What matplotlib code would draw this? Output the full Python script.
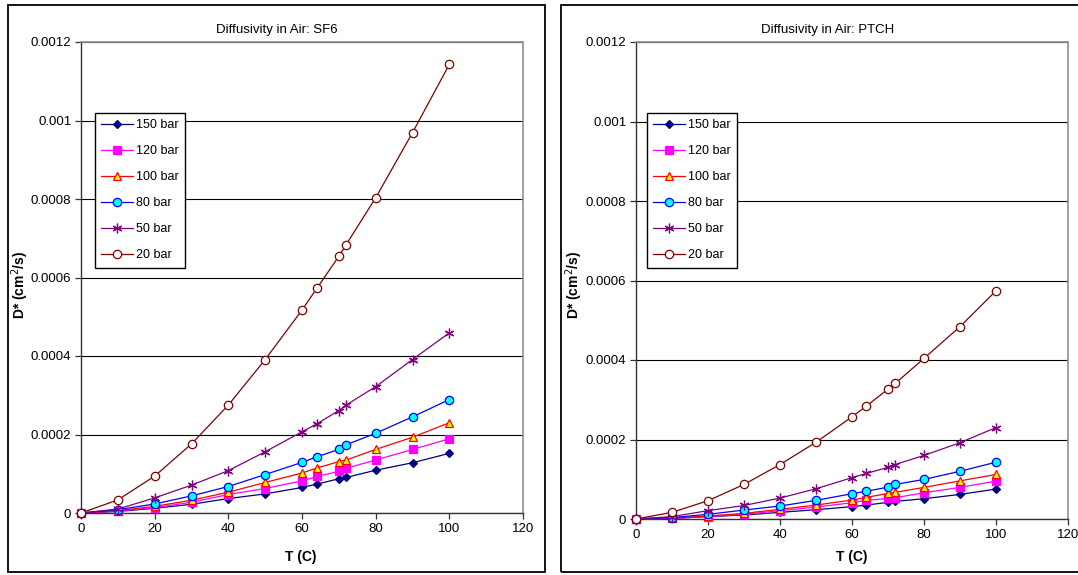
import numpy as np
import matplotlib
matplotlib.use("Agg")
import matplotlib.pyplot as plt
from matplotlib.patches import Rectangle
from matplotlib.ticker import FixedLocator, FuncFormatter

plt.rcParams['font.family'] = ['Liberation Sans', 'DejaVu Sans']

# temperatures (C)
temps = [0, 10, 20, 30, 40, 50, 60, 64, 70, 72, 80, 90, 100]
pressures = ["150 bar", "120 bar", "100 bar", "80 bar", "50 bar", "20 bar"]

# D* (cm^2/s) for SF6
sf6_150 = [0, 0.000004, 0.000012, 0.0000222, 0.0000368, 0.0000487, 0.000065, 0.0000735, 0.0000872, 0.0000906, 0.000109, 0.000128, 0.000152]
sf6_120 = [0, 0.000005, 0.0000137, 0.0000274, 0.000047, 0.0000624, 0.000082, 0.000093, 0.000106, 0.000114, 0.000135, 0.000162, 0.000189]
sf6_100 = [0, 0.000006, 0.000017, 0.0000325, 0.000053, 0.0000778, 0.000102, 0.0001145, 0.000131, 0.000135, 0.000162, 0.000193, 0.00023]
sf6_80 = [0, 0.0000085, 0.000023, 0.0000436, 0.0000675, 0.000098, 0.000129, 0.000143, 0.000162, 0.000174, 0.000203, 0.000245, 0.000289]
sf6_50 = [0, 0.00001, 0.0000385, 0.000071, 0.000108, 0.000156, 0.000207, 0.000227, 0.000261, 0.000275, 0.000322, 0.000391, 0.000459]
sf6_20 = [0, 0.0000333, 0.000094, 0.000176, 0.000275, 0.000391, 0.000517, 0.000572, 0.000654, 0.000684, 0.000803, 0.000969, 0.001143]

# D* (cm^2/s) for PTCH
ptch_150 = [0, 0.0000017, 0.000006, 0.00001, 0.0000167, 0.0000234, 0.000031, 0.0000351, 0.0000418, 0.0000444, 0.000051, 0.0000619, 0.0000753]
ptch_120 = [0, 0.0000017, 0.000006, 0.0000117, 0.0000209, 0.00003, 0.000041, 0.0000469, 0.0000519, 0.0000536, 0.0000661, 0.0000795, 0.0000954]
ptch_100 = [0, 0.0000017, 0.0000075, 0.0000142, 0.0000243, 0.0000351, 0.0000477, 0.0000544, 0.0000644, 0.000067, 0.0000795, 0.000096, 0.000112]
ptch_80 = [0, 0.0000035, 0.0000117, 0.0000226, 0.0000326, 0.0000469, 0.0000636, 0.00007, 0.00008, 0.000087, 0.0000996, 0.00012, 0.000143]
ptch_50 = [0, 0.000006, 0.000021, 0.000034, 0.0000527, 0.000076, 0.000104, 0.0001146, 0.00013, 0.000137, 0.00016, 0.000192, 0.00023]
ptch_20 = [0, 0.0000167, 0.000046, 0.000087, 0.000137, 0.000193, 0.000257, 0.000284, 0.000327, 0.000341, 0.000404, 0.000484, 0.000574]

# line colour, marker, face colour, edge colour, marker size
styles = [
    ("#000080", "D", "#000080", "#000080", 4.2),
    ("#FF00FF", "s", "#FF00FF", "#FF00FF", 5.2),
    ("#FF0000", "^", "#FFFF00", "#FF0000", 6.0),
    ("#0000FF", "o", "#00FFFF", "#0000FF", 6.0),
    ("#800080", (6, 2, 0), "#800080", "#800080", 7.0),
    ("#800000", "o", "#FFFFFF", "#800000", 6.0),
]

W, H = 1078, 575
fig = plt.figure(figsize=(W / 100, H / 100), dpi=100)


def px_box(x0, y0, x1, y1):
    return [x0 / W, 1 - y1 / H, (x1 - x0) / W, (y1 - y0) / H]


def draw_chart(rect, series, title, title_x, ylabel_x, xlabel_x, legend_xy):
    ax = fig.add_axes(rect)
    for ys, name, (lc, mk, fc, ec, ms) in zip(series, pressures, styles):
        ax.plot(temps, ys, color=lc, lw=0.9, marker=mk, markerfacecolor=fc,
                markeredgecolor=ec, markersize=ms, markeredgewidth=0.9,
                label=name, clip_on=False, zorder=3)
    ax.set_xlim(0, 120)
    ax.set_ylim(0, 0.0012)
    ax.xaxis.set_major_locator(FixedLocator(np.arange(0, 121, 20)))
    ax.yaxis.set_major_locator(FixedLocator(np.arange(0, 0.00121, 0.0002)))
    ax.yaxis.set_major_formatter(FuncFormatter(lambda v, p: "0" if abs(v) < 1e-9 else f"{v:.4f}".rstrip("0")))
    ax.tick_params(direction="out", length=4, width=0.9, labelsize=9.5, color="#333333", pad=3)
    ax.grid(axis="y", color="black", lw=0.8)
    ax.set_axisbelow(True)
    for s in ("top", "right"):
        ax.spines[s].set_color("#909090")
        ax.spines[s].set_linewidth(1.2)
    for s in ("left", "bottom"):
        ax.spines[s].set_color("#333333")
        ax.spines[s].set_linewidth(1.0)

    fig.text(title_x / W, 1 - 30 / H, title, ha="center", va="center", fontsize=9.5)
    fig.text(ylabel_x / W, 1 - 285 / H, "D* (cm$^{2}$/s)", rotation=90, ha="center",
             va="center", fontsize=10, fontweight="bold")
    fig.text(xlabel_x / W, 1 - 557 / H, "T (C)", ha="center", va="center",
             fontsize=10, fontweight="bold")

    leg = ax.legend(loc="upper left", bbox_to_anchor=(legend_xy[0] / W, 1 - legend_xy[1] / H),
                    bbox_transform=fig.transFigure, borderaxespad=0, fancybox=False,
                    edgecolor="black", framealpha=1, fontsize=9, labelspacing=1.12,
                    handlelength=2.5, handletextpad=0.3, borderpad=0.5)
    leg.get_frame().set_linewidth(1.0)
    return ax


draw_chart(px_box(81, 42, 523, 513),
           [sf6_150, sf6_120, sf6_100, sf6_80, sf6_50, sf6_20],
           "Diffusivity in Air: SF6", 277, 20, 301, (95, 113))
draw_chart(px_box(636, 42, 1068, 519),
           [ptch_150, ptch_120, ptch_100, ptch_80, ptch_50, ptch_20],
           "Diffusivity in Air: PTCH", 828, 574, 852, (647, 113))

# chart area borders
for x0, x1 in ((8, 545), (561, 1100)):
    fig.patches.append(Rectangle((x0 / W, 1 - 572 / H), (x1 - x0) / W, 567 / H,
                                 transform=fig.transFigure, fill=False,
                                 edgecolor="black", lw=1.3))

fig.savefig("out.png", dpi=100)
